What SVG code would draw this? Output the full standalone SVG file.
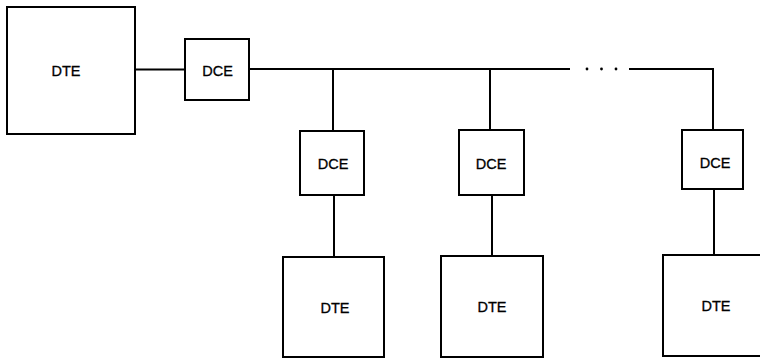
<svg xmlns="http://www.w3.org/2000/svg" width="760" height="358" viewBox="0 0 760 358">
<style>
.box{fill:#fff;stroke:#000;stroke-width:2}
.lbl{font-family:"Liberation Sans",Arial,sans-serif;font-size:14.5px;fill:#000;stroke:#000;stroke-width:0.3;text-anchor:middle}
.wire{stroke:#000;stroke-width:2;fill:none}
</style>
<rect width="760" height="358" fill="#fff"/>
<g id="connectors">
<line class="wire" x1="135" y1="69.5" x2="185" y2="69.5"/>
<line class="wire" x1="249" y1="69" x2="570" y2="69"/>
<circle cx="587" cy="69" r="1.4" fill="#000"/>
<circle cx="601.5" cy="69" r="1.4" fill="#000"/>
<circle cx="616" cy="69" r="1.4" fill="#000"/>
<polyline class="wire" points="629,69 713,69 713,130"/>
<line class="wire" x1="333" y1="69" x2="333" y2="131"/>
<line class="wire" x1="490" y1="69" x2="490" y2="130"/>
<line class="wire" x1="334" y1="195" x2="334" y2="257"/>
<line class="wire" x1="492" y1="195" x2="492" y2="256"/>
<line class="wire" x1="714" y1="189" x2="714" y2="255"/>
</g>
<g id="dte0"><rect class="box" x="7" y="7" width="128" height="127"/><text class="lbl" x="66" y="76">DTE</text></g>
<g id="dce0"><rect class="box" x="185" y="39" width="64" height="61"/><text class="lbl" x="217.5" y="76">DCE</text></g>
<g id="dce1"><rect class="box" x="300" y="131" width="64" height="64"/><text class="lbl" x="333" y="169">DCE</text></g>
<g id="dce2"><rect class="box" x="459" y="130" width="65" height="65"/><text class="lbl" x="491" y="169">DCE</text></g>
<g id="dce3"><rect class="box" x="682" y="130" width="61" height="59"/><text class="lbl" x="715" y="168">DCE</text></g>
<g id="dte1"><rect class="box" x="283" y="257" width="101" height="100"/><text class="lbl" x="335" y="313">DTE</text></g>
<g id="dte2"><rect class="box" x="441" y="256" width="102" height="101"/><text class="lbl" x="492" y="312">DTE</text></g>
<g id="dte3"><rect class="box" x="663" y="255" width="104" height="101"/><text class="lbl" x="716" y="311">DTE</text></g>
</svg>
